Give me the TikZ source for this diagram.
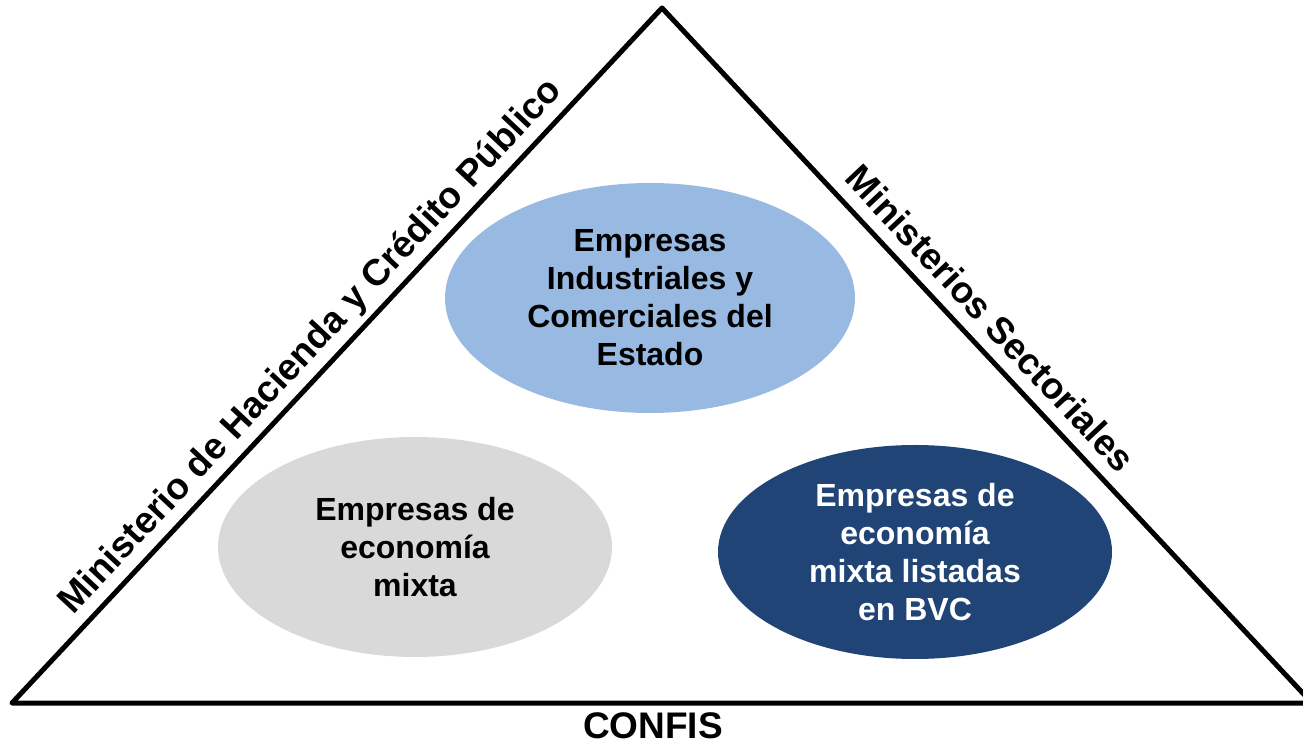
\documentclass[tikz,border=0pt]{standalone}
\usepackage{fontspec}
\setmainfont{Liberation Sans}
\usetikzlibrary{shapes.geometric}
\definecolor{eiceblue}{HTML}{97B9E2}
\definecolor{bvcblue}{HTML}{204475}
\definecolor{mixgray}{HTML}{D9D9D9}
\begin{document}
\begin{tikzpicture}[x=1pt,y=1pt,
  edge/.style={line width=5pt, line join=round, black},
  oval/.style={ellipse, draw=none, inner sep=0pt, align=center,
    font=\fontsize{32}{38}\selectfont\bfseries},
  side/.style={font=\fontsize{37}{44}\selectfont\bfseries, inner sep=0pt}]
\useasboundingbox (0,0) rectangle (1303,744);
\coordinate (L) at (12,41);
\coordinate (T) at (662,736);
\coordinate (R) at (1312,41);
\draw[edge] (L) -- (T) -- (R) -- cycle;
\node[oval, fill=eiceblue, minimum width=410, minimum height=230] (eice) at (650,446)
  {Empresas\\Industriales y\\Comerciales del\\Estado};
\node[oval, fill=mixgray, minimum width=394, minimum height=220] (mixta) at (415,197)
  {Empresas de\\economía\\mixta};
\node[oval, fill=bvcblue, text=white, minimum width=394, minimum height=214] (bvc) at (915,192)
  {Empresas de\\economía\\mixta listadas\\en BVC};
\path (L) -- node[side, sloped, pos=0.488, anchor=base, yshift=15pt] (hacienda)
  {Ministerio de Hacienda y Crédito Público} (T);
\path (T) -- node[side, sloped, pos=0.474, anchor=base, yshift=15pt] (sectoriales)
  {Ministerios Sectoriales} (R);
\node[side, anchor=base] (confis) at (653,6) {CONFIS};
\end{tikzpicture}
\end{document}
